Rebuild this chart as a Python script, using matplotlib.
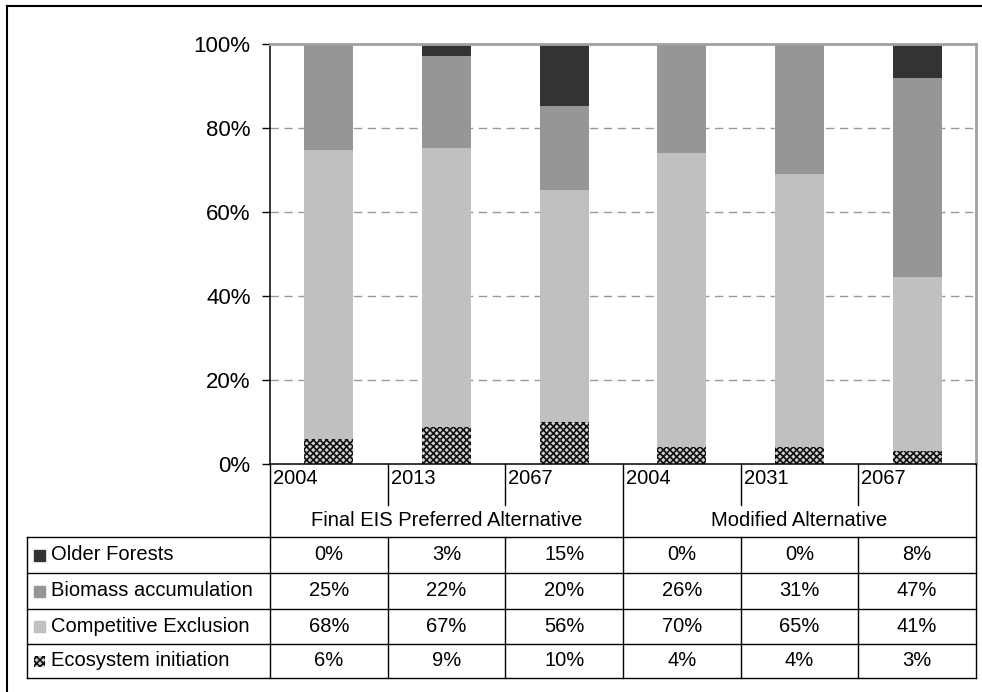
import matplotlib
matplotlib.use("Agg")
import matplotlib.pyplot as plt
from matplotlib.lines import Line2D
from matplotlib.patches import Rectangle
from matplotlib.ticker import PercentFormatter

plt.rcParams['font.family'] = ['Liberation Sans', 'DejaVu Sans']
plt.rcParams['hatch.linewidth'] = 1.2

years = ['2004', '2013', '2067', '2004', '2031', '2067']
groups = ['Final EIS Preferred Alternative', 'Modified Alternative']
series = ['Older Forests', 'Biomass accumulation', 'Competitive Exclusion', 'Ecosystem initiation']
older = [0, 3, 15, 0, 0, 8]
biomass = [25, 22, 20, 26, 31, 47]
competitive = [68, 67, 56, 70, 65, 41]
ecosystem = [6, 9, 10, 4, 4, 3]

# drawing order is bottom-up, table order is top-down
values = [older, biomass, competitive, ecosystem]
styles = [dict(color='#333333'),
          dict(color='#969696'),
          dict(color='#c0c0c0'),
          dict(facecolor='#cfcfcf', edgecolor='#111111', hatch='xxxxx', linewidth=0)]

W, H = 982, 692
fig = plt.figure(figsize=(W / 100, H / 100), dpi=100)


def px_axes(x0, y0, x1, y1):
    return fig.add_axes([x0 / W, 1 - y1 / H, (x1 - x0) / W, (y1 - y0) / H])


# stacked 100% bars
ax = px_axes(270, 44, 976, 464)
n = len(years)
xs = list(range(n))
totals = [sum(v[i] for v in values) for i in xs]
bottom = [0.0] * n
for vals, st in zip(values[::-1], styles[::-1]):
    share = [vals[i] / totals[i] for i in xs]
    ax.bar(xs, share, width=0.415, bottom=bottom, **st)
    bottom = [b + s for b, s in zip(bottom, share)]

ax.set_xlim(-0.5, n - 0.5)
ax.set_ylim(0, 1)
ax.set_yticks([0, 0.2, 0.4, 0.6, 0.8, 1.0])
ax.yaxis.set_major_formatter(PercentFormatter(1.0, decimals=0))
ax.tick_params(axis='y', direction='out', length=6, width=1, labelsize=16, pad=8)
ax.set_xticks([])
for y in [0.2, 0.4, 0.6, 0.8]:
    ax.axhline(y, color='#999999', lw=1, dashes=(6, 4), zorder=0)
ax.spines['top'].set_color('#a0a0a0')
ax.spines['right'].set_color('#a0a0a0')
ax.spines['top'].set_linewidth(2)
ax.spines['right'].set_linewidth(2)
ax.spines['left'].set_linewidth(1.1)
ax.spines['bottom'].set_linewidth(1.1)

# data table underneath
unit = 706 / n
label_w = (270 - 27) / unit
tx = px_axes(27, 464, 976, 678)
tx.set_xlim(-0.5 - label_w, n - 0.5)
tx.set_ylim(678, 464)
tx.axis('off')

fs = 14.5
rows = [537, 573, 609, 644, 678]
kw = dict(color='black', lw=1, clip_on=False)
# year cells and group cells
for b in [0.5, 1.5, 3.5, 4.5]:
    tx.plot([b, b], [464, 505], **kw)
for b in [-0.5, 2.5, 5.5]:
    tx.plot([b, b], [464, 678], **kw)
for i, yr in enumerate(years):
    tx.text(i - 0.5 + 3 / unit, 479, yr, ha='left', va='center', fontsize=fs)
for g, lab in enumerate(groups):
    tx.text(g * 3 + 1, 521, lab, ha='center', va='center', fontsize=fs)

# value rows
for r in rows:
    tx.plot([-0.5 - label_w, n - 0.5], [r, r], **kw)
tx.plot([-0.5 - label_w] * 2, [rows[0], rows[-1]], **kw)
for b in [0.5, 1.5, 3.5, 4.5]:
    tx.plot([b, b], [rows[0], rows[-1]], **kw)

for k, (name, vals, st) in enumerate(zip(series, values, styles)):
    yc = (rows[k] + rows[k + 1]) / 2
    tx.add_patch(Rectangle((-0.5 - label_w + 7 / unit, yc - 5), 11 / unit, 11,
                           clip_on=False, **st))
    tx.text(-0.5 - label_w + 24 / unit, yc, name, ha='left', va='center', fontsize=fs)
    for i, v in enumerate(vals):
        tx.text(i, yc, f'{v}%', ha='center', va='center', fontsize=fs)

# outer frame
fig.add_artist(Line2D([7 / W, 1], [1 - 6 / H, 1 - 6 / H], color='black', lw=1.5,
                      transform=fig.transFigure))
fig.add_artist(Line2D([7 / W, 7 / W], [1 - 6 / H, 0], color='black', lw=1.5,
                      transform=fig.transFigure))

fig.savefig('out.png', dpi=100)
